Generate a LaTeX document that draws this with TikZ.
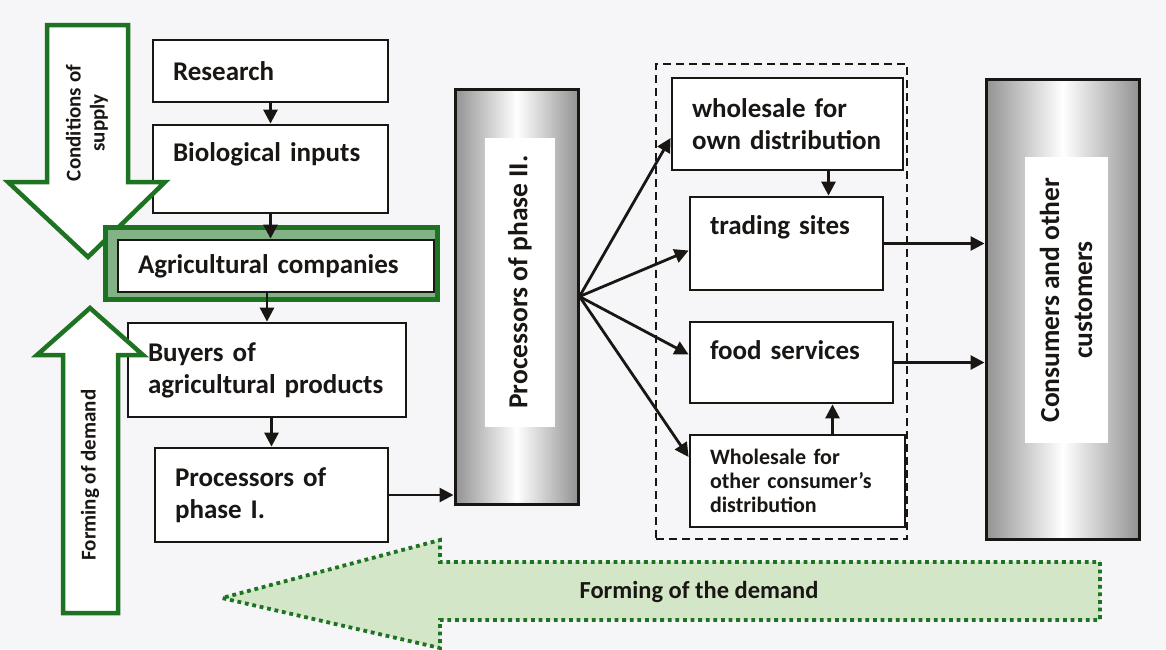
\documentclass[tikz,border=0pt]{standalone}
\usepackage{fontspec}
\setmainfont{Carlito}
\usetikzlibrary{arrows.meta}

\definecolor{leafgreen}{RGB}{30,115,35}
\definecolor{palegreen}{RGB}{212,230,200}
\definecolor{paper}{RGB}{246,246,248}
\definecolor{ink}{RGB}{25,22,20}

\begin{document}
\begin{tikzpicture}[%
    x=1pt, y=-1pt,
    >={Triangle[length=14pt,width=14pt]},
    box/.style={draw=ink, line width=2.8pt, fill=white, inner xsep=20pt,
      align=left, text width=#1, text=ink,
      font=\fontsize{27}{32}\selectfont\bfseries},
    bar/.style={draw=ink, line width=3pt,
      left color=gray!85, right color=gray!85, middle color=white},
    panel/.style={fill=white, rotate=90, align=center, text=ink,
      font=\fontsize{27.5}{33}\selectfont\bfseries},
    flow/.style={->, line width=2.8pt, draw=ink},
    bigarrow/.style={draw=leafgreen, line width=4.5pt, fill=white},
  ]
  % page
  \fill[paper] (0,0) rectangle (1166,649);
  \useasboundingbox (0,0) rectangle (1166,649);

  % primary chain
  \node[box=195, minimum height=62] (research) at (270.5,71) {Research};
  \node[box=195, minimum height=88, text depth=34pt] (bio) at (270.5,169)
    {Biological inputs};
  \node[box=238, minimum height=94] (buyers) at (267,370)
    {Buyers of\\agricultural products};
  \node[box=193, minimum height=94] (proc1) at (271.5,495)
    {Processors of\\phase I.};

  % supply / demand arrows on the left
  \draw[bigarrow] (47,25) -- (128,25) -- (128,182) -- (165,182)
    -- (88,257) -- (8,182) -- (47,182) -- cycle;
  \node[rotate=90, align=center, text=ink,
    font=\fontsize{21}{24}\selectfont\bfseries] (supply) at (87,123)
    {Conditions of\\supply};
  \draw[bigarrow] (63,613) -- (118,613) -- (118,355) -- (143,355)
    -- (90,308) -- (37,355) -- (63,355) -- cycle;
  \node[rotate=90, text=ink, font=\fontsize{21}{24}\selectfont\bfseries]
    (demand) at (90,475) {Forming of demand};

  % agricultural companies, framed
  \node[draw=leafgreen, line width=5pt, fill=leafgreen!55,
    minimum width=332, minimum height=72] (agriframe) at (271.5,263.5) {};
  \node[box=276, minimum height=52] (agri) at (276,266)
    {Agricultural companies};

  % processors of phase II
  \node[bar, minimum width=123, minimum height=415] (proc2) at (516.5,296.5) {};
  \node[panel, minimum width=289, minimum height=70] (proc2label) at (520,282)
    {Processors of phase II.};

  % distribution channels
  \node[draw=ink, line width=2.6pt, dash pattern=on 8pt off 5pt,
    minimum width=251, minimum height=475] (retail) at (781.5,301.5) {};
  \node[box=191, minimum height=92] (wsown) at (787.5,124)
    {wholesale for\\own distribution};
  \node[box=153, minimum height=93, text depth=36pt] (trading) at (786.5,243.5)
    {trading sites};
  \node[box=163, minimum height=81, text depth=24pt] (food) at (791.5,362.5)
    {food services};
  \node[box=175, minimum height=92, font=\fontsize{22}{24}\selectfont\bfseries]
    (wsother) at (797.5,481) {Wholesale for\\other consumer's\\distribution};

  % consumers
  \node[bar, minimum width=153, minimum height=460] (cons) at (1062.5,309) {};
  \node[panel, minimum width=286, minimum height=83] (conslabel) at (1066,300)
    {Consumers and other\\customers};

  % connectors
  \draw[flow] (research) -- (bio);
  \draw[flow] (bio.south) -- (bio.south |- agri.north);
  \draw[flow] (buyers.north |- agri.south) -- (buyers.north);
  \draw[flow] (proc1.north |- buyers.south) -- (proc1.north);
  \draw[flow] (proc1.east) -- (proc1.east -| proc2.west);
  \draw[flow] (proc2.east) -- ([yshift=-14pt]wsown.west);
  \draw[flow] (proc2.east) -- ([yshift=-7pt]trading.west);
  \draw[flow] (proc2.east) -- ([yshift=8pt]food.west);
  \draw[flow] (proc2.east) -- ([yshift=24pt]wsother.west);
  \draw[flow] ([xshift=41pt]wsown.south) -- ([xshift=41pt]wsown.south |- trading.north);
  \draw[flow] ([xshift=35pt]wsother.north) -- ([xshift=35pt]wsother.north |- food.south);
  \draw[flow] (trading.east) -- (trading.east -| cons.west);
  \draw[flow] (food.east) -- (food.east -| cons.west);

  % demand arrow along the bottom
  \draw[draw=leafgreen, line width=3.8pt, dash pattern=on 3.8pt off 3.8pt,
    left color=palegreen, middle color=white, right color=palegreen]
    (1100,562) -- (1100,620) -- (440,620) -- (440,648) -- (222,598)
    -- (440,540) -- (440,562) -- cycle;
  \node[text=ink, font=\fontsize{24.5}{28}\selectfont\bfseries] (demandlabel)
    at (699,592) {Forming of the demand};
\end{tikzpicture}
\end{document}
